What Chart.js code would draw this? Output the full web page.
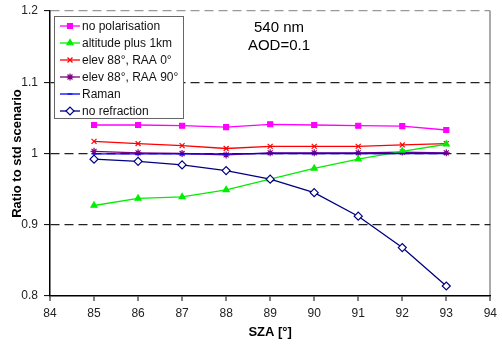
<!DOCTYPE html>
<html>
<head>
<meta charset="utf-8">
<script src="https://cdn.jsdelivr.net/npm/chart.js@4/dist/chart.umd.min.js"></script>
<style>
  html, body { margin: 0; padding: 0; background: #fff; }
  #wrap { width: 502px; height: 344px; }
</style>
</head>
<body>
<div id="wrap"><canvas id="myChart" width="502" height="344"></canvas></div>
<script>
var sza = [85, 86, 87, 88, 89, 90, 91, 92, 93];

var noPolarisation = [1.040, 1.040, 1.039, 1.037, 1.041, 1.040, 1.039, 1.0385, 1.033];
var altitudePlus1km = [0.927, 0.937, 0.939, 0.949, 0.964, 0.979, 0.992, 1.003, 1.013];
var elev88Raa0 = [1.017, 1.014, 1.011, 1.007, 1.010, 1.010, 1.010, 1.012, 1.014];
var elev88Raa90 = [1.003, 1.001, 1.000, 0.998, 1.001, 1.001, 1.001, 1.002, 1.001];
var raman = [0.9995, 0.9995, 0.9995, 0.9995, 1.000, 1.000, 1.000, 1.000, 1.000];
var noRefraction = [0.992, 0.989, 0.984, 0.976, 0.964, 0.945, 0.912, 0.868, 0.814];

var seriesNames = ['no polarisation', 'altitude plus 1km', 'elev 88\u00b0, RAA 0\u00b0', 'elev 88\u00b0, RAA 90\u00b0', 'Raman', 'no refraction'];
var annotationLines = ['540 nm', 'AOD=0.1'];

function pts(vals) {
  var out = [];
  for (var i = 0; i < sza.length; i++) {
    out.push({x: sza[i], y: vals[i]});
  }
  return out;
}

var FONT = "'Liberation Sans', Arial, sans-serif";

// legend drawn inside the plot, with line + marker like the original
var boxLegend = {
  id: 'boxLegend',
  afterDraw: function(chart) {
    var ctx = chart.ctx;
    var area = chart.chartArea;
    var x0 = area.left + 4, y0 = area.top + 5;
    var w = 129, rowH = 17, h = 102;
    ctx.save();
    ctx.fillStyle = '#fff';
    ctx.fillRect(x0, y0, w, h);
    ctx.strokeStyle = '#666';
    ctx.lineWidth = 1;
    ctx.strokeRect(x0 + 0.5, y0 + 0.5, w, h);
    chart.data.datasets.forEach(function(ds, i) {
      var cy = y0 + 10 + i * rowH;
      ctx.strokeStyle = ds.borderColor;
      ctx.lineWidth = 1.3;
      ctx.beginPath();
      ctx.moveTo(x0 + 6, cy);
      ctx.lineTo(x0 + 26, cy);
      ctx.stroke();
      ctx.fillStyle = ds.pointBackgroundColor;
      ctx.strokeStyle = ds.pointBorderColor;
      ctx.lineWidth = 1.2;
      Chart.helpers.drawPoint(ctx, {pointStyle: ds.pointStyle, radius: ds.pointRadius, borderWidth: 1.2, rotation: 0}, x0 + 16, cy);
      ctx.fillStyle = '#111';
      ctx.font = '12px ' + FONT;
      ctx.textBaseline = 'middle';
      ctx.textAlign = 'left';
      ctx.fillText(ds.label, x0 + 28, cy + 1);
    });
    ctx.restore();
  }
};

var noteText = {
  id: 'noteText',
  afterDraw: function(chart) {
    var ctx = chart.ctx;
    var xs = chart.scales.x, ys = chart.scales.y;
    ctx.save();
    ctx.fillStyle = '#000';
    ctx.font = '15px ' + FONT;
    ctx.textAlign = 'center';
    ctx.textBaseline = 'middle';
    var cx = xs.getPixelForValue(89.2);
    ctx.fillText(annotationLines[0], cx, ys.getPixelForValue(1.176));
    ctx.fillText(annotationLines[1], cx, ys.getPixelForValue(1.151));
    ctx.restore();
  }
};

var ctx = document.getElementById('myChart');
var myChart = new Chart(ctx, {
  type: 'line',
  data: {
    datasets: [{
      label: seriesNames[0],
      data: pts(noPolarisation),
      borderColor: '#ff00ff',
      pointBackgroundColor: '#ff00ff',
      pointBorderColor: '#ff00ff',
      pointStyle: 'rect',
      pointRadius: 3.5,
      order: 3
    }, {
      label: seriesNames[1],
      data: pts(altitudePlus1km),
      borderColor: '#00ee00',
      pointBackgroundColor: '#00ee00',
      pointBorderColor: '#00ee00',
      pointStyle: 'triangle',
      pointRadius: 3.5,
      order: 4
    }, {
      label: seriesNames[2],
      data: pts(elev88Raa0),
      borderColor: '#ff0000',
      pointBackgroundColor: '#ff0000',
      pointBorderColor: '#ff0000',
      pointStyle: 'crossRot',
      pointRadius: 3.5,
      order: 5
    }, {
      label: seriesNames[3],
      data: pts(elev88Raa90),
      borderColor: '#800080',
      pointBackgroundColor: '#800080',
      pointBorderColor: '#800080',
      pointStyle: 'star',
      pointRadius: 3.5,
      order: 6
    }, {
      label: seriesNames[4],
      data: pts(raman),
      borderColor: '#0000ff',
      pointBackgroundColor: '#0000ff',
      pointBorderColor: '#0000ff',
      pointStyle: 'line',
      pointRadius: 2.5,
      order: 1
    }, {
      label: seriesNames[5],
      data: pts(noRefraction),
      borderColor: '#000080',
      pointBackgroundColor: '#ffffff',
      pointBorderColor: '#000080',
      pointStyle: 'rectRot',
      pointRadius: 4,
      order: 2
    }]
  },
  options: {
    responsive: false,
    animation: false,
    layout: { padding: { left: 4, top: 11, right: 5, bottom: 0 } },
    elements: {
      line: { borderWidth: 1.3, tension: 0 },
      point: { borderWidth: 1.2 }
    },
    plugins: {
      legend: { display: false },
      tooltip: { enabled: false }
    },
    scales: {
      x: {
        type: 'linear',
        min: 84,
        max: 94,
        ticks: {
          stepSize: 1,
          color: '#222',
          font: { family: FONT, size: 12 },
          padding: 5,
          maxRotation: 0
        },
        grid: {
          color: function(c) { return c.tick && c.tick.value === 94 ? '#aaa' : 'rgba(0,0,0,0)'; },
          lineWidth: 2,
          tickColor: '#000',
          tickLength: 5,
          tickWidth: 1
        },
        border: { color: '#000', width: 1.5 },
        title: {
          display: true,
          text: 'SZA [\u00b0]',
          color: '#000',
          font: { family: FONT, size: 13, weight: 'bold' },
          padding: { top: 2, bottom: 4 }
        },
        afterFit: function(scale) { scale.height = 48; }
      },
      y: {
        min: 0.8,
        max: 1.2,
        ticks: {
          stepSize: 0.1,
          color: '#222',
          font: { family: FONT, size: 12, lineHeight: 0.8 },
          padding: 6,
          callback: function(v) { return String(Number(v.toFixed(1))); }
        },
        grid: {
          color: function(c) {
            if (!c.tick) return 'rgba(0,0,0,0)';
            var v = Math.round(c.tick.value * 10) / 10;
            if (v === 0.8) return 'rgba(0,0,0,0)';
            if (v === 1.2) return '#999';
            return '#222';
          },
          lineWidth: 1.2,
          tickColor: '#000',
          tickLength: 6,
          tickWidth: 1
        },
        border: { color: '#000', width: 1.5, dash: [9, 5] },
        title: {
          display: true,
          text: 'Ratio to std scenario',
          color: '#000',
          font: { family: FONT, size: 13, weight: 'bold' },
          padding: { top: 6, bottom: 0 }
        },
        afterFit: function(scale) { scale.width = 46; }
      }
    }
  },
  plugins: [boxLegend, noteText]
});
</script>
</body>
</html>
